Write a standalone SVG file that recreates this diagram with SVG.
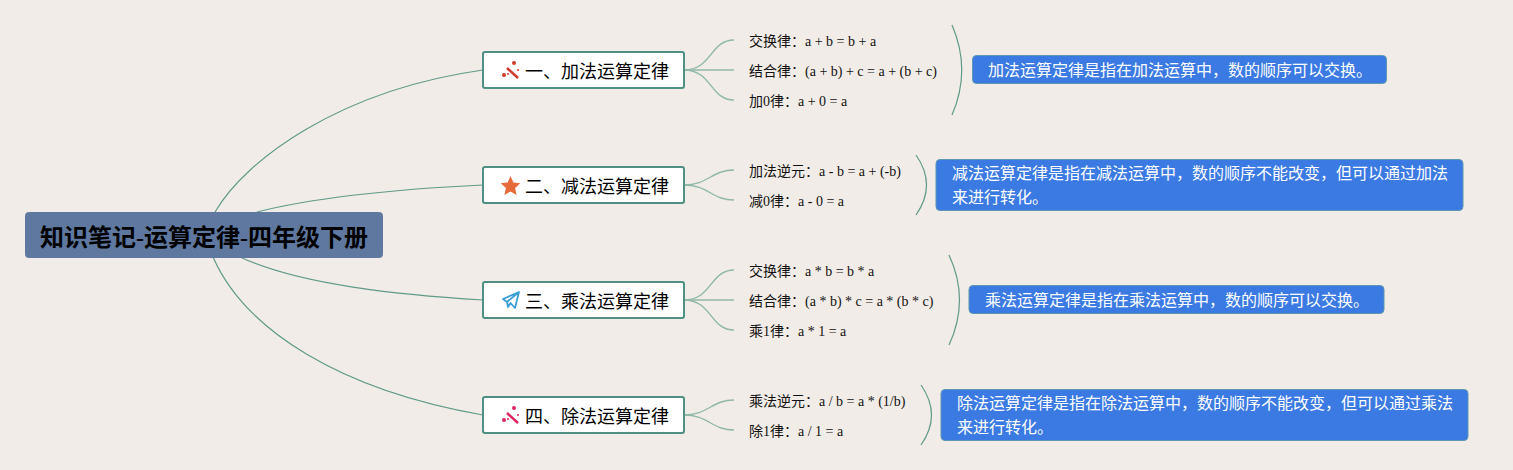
<svg xmlns="http://www.w3.org/2000/svg" width="1513" height="470" viewBox="0 0 1513 470">
<style>
text{font-family:"Liberation Serif","Noto Sans CJK SC",serif}
.root rect{fill:#5e789f;stroke:#5e789f}
.root text{font-size:24px;font-weight:bold;fill:#000}
.main rect{fill:#fff;stroke:#4f8f84;stroke-width:2}
.main text{font-size:18px;fill:#000}
.leaf text{font-size:14px;fill:#111}
.desc rect{fill:#3b7ae3;stroke:#5d97b0;stroke-width:1}
.desc text{font-size:16px;fill:#fff}
.c path{fill:none;stroke:#5f9a88;stroke-width:1.200}
.c path.t{stroke:#8fb8a8;stroke-width:1.400}
</style>
<rect width="1513" height="470" fill="#f1ece7"/>
<g id="connectors" class="c">
<path d="M215 212C245 160 340 90 483 70"/>
<path d="M257 212C320 196 400 189 483 185"/>
<path d="M240 257C300 285 400 295 483 300"/>
<path d="M213 257C245 330 340 390 483 415"/>
<path class="t" d="M684 70C712 70 710 40 734 40"/>
<path class="t" d="M684 70H734"/>
<path class="t" d="M684 70C712 70 710 100 734 100"/>
<path class="t" d="M684 185C708 185 712 170 734 170"/>
<path class="t" d="M684 185C708 185 712 200 734 200"/>
<path class="t" d="M684 300C712 300 710 270 734 270"/>
<path class="t" d="M684 300H734"/>
<path class="t" d="M684 300C712 300 710 330 734 330"/>
<path class="t" d="M684 415C708 415 712 400 734 400"/>
<path class="t" d="M684 415C708 415 712 430 734 430"/>
<path d="M952 25C965 55 965 85 952 115"/>
<path d="M916 155C930 175 930 195 916 215"/>
<path d="M949 255C963 285 963 315 949 345"/>
<path d="M921 385C935 405 935 425 921 445"/>
</g>
<g id="root" class="root"><rect x="25.500" y="212.500" width="357" height="45" rx="3"/><text x="40" y="246">知识笔记-运算定律-四年级下册</text></g>
<g id="n1" class="main"><rect x="483" y="52" width="201" height="36" rx="2"/>
<path d="M507 68L518 78" stroke="#d0392b" stroke-width="2.500" fill="none"/><circle cx="504" cy="75" r="2" fill="#d0392b"/><circle cx="508" cy="74" r="1" fill="#d0392b"/><circle cx="514" cy="63" r="2" fill="#d0392b"/><circle cx="518" cy="70" r="1" fill="#d0392b"/>
<text x="525" y="78">一、加法运算定律</text></g>
<g id="n2" class="main"><rect x="483" y="167" width="201" height="36" rx="2"/>
<path d="M510.500 176L513.400 182.600L520.300 183.300L515.100 188L516.600 195L510.500 191.400L504.400 195L505.900 188L500.700 183.300L507.600 182.600Z" fill="#e76a39"/>
<text x="525" y="193">二、减法运算定律</text></g>
<g id="n3" class="main"><rect x="483" y="282" width="201" height="36" rx="2"/>
<path d="M503 299L519 292L515 308L510.500 303L508 307L507 302ZM519 292L507 302" stroke="#3a9fd6" stroke-width="1.800" stroke-linejoin="round" fill="none"/>
<text x="525" y="308">三、乘法运算定律</text></g>
<g id="n4" class="main"><rect x="483" y="397" width="201" height="36" rx="2"/>
<path d="M507 413L518 423" stroke="#e0245e" stroke-width="2.500" fill="none"/><circle cx="504" cy="420" r="2" fill="#e0245e"/><circle cx="508" cy="419" r="1" fill="#e0245e"/><circle cx="514" cy="408" r="2" fill="#e0245e"/><circle cx="518" cy="415" r="1" fill="#e0245e"/>
<text x="525" y="423">四、除法运算定律</text></g>
<g id="l11" class="leaf"><text x="749" y="46">交换律：a + b = b + a</text></g>
<g id="l12" class="leaf"><text x="749" y="76">结合律：(a + b) + c = a + (b + c)</text></g>
<g id="l13" class="leaf"><text x="749" y="106">加0律：a + 0 = a</text></g>
<g id="l21" class="leaf"><text x="749" y="176">加法逆元：a - b = a + (-b)</text></g>
<g id="l22" class="leaf"><text x="749" y="206">减0律：a - 0 = a</text></g>
<g id="l31" class="leaf"><text x="749" y="276">交换律：a * b = b * a</text></g>
<g id="l32" class="leaf"><text x="749" y="306">结合律：(a * b) * c = a * (b * c)</text></g>
<g id="l33" class="leaf"><text x="749" y="336">乘1律：a * 1 = a</text></g>
<g id="l41" class="leaf"><text x="749" y="406">乘法逆元：a / b = a * (1/b)</text></g>
<g id="l42" class="leaf"><text x="749" y="436">除1律：a / 1 = a</text></g>
<g id="d1" class="desc"><rect x="972.500" y="55.500" width="414" height="28" rx="4"/><text x="988" y="76">加法运算定律是指在加法运算中，数的顺序可以交换。</text></g>
<g id="d2" class="desc"><rect x="936" y="159.500" width="527" height="51" rx="4"/><text x="952" y="179">减法运算定律是指在减法运算中，数的顺序不能改变，但可以通过加法</text><text x="952" y="203">来进行转化。</text></g>
<g id="d3" class="desc"><rect x="969" y="285.500" width="415" height="28" rx="4"/><text x="985" y="306">乘法运算定律是指在乘法运算中，数的顺序可以交换。</text></g>
<g id="d4" class="desc"><rect x="941" y="389.500" width="527" height="51" rx="4"/><text x="957" y="409">除法运算定律是指在除法运算中，数的顺序不能改变，但可以通过乘法</text><text x="957" y="433">来进行转化。</text></g>
</svg>
